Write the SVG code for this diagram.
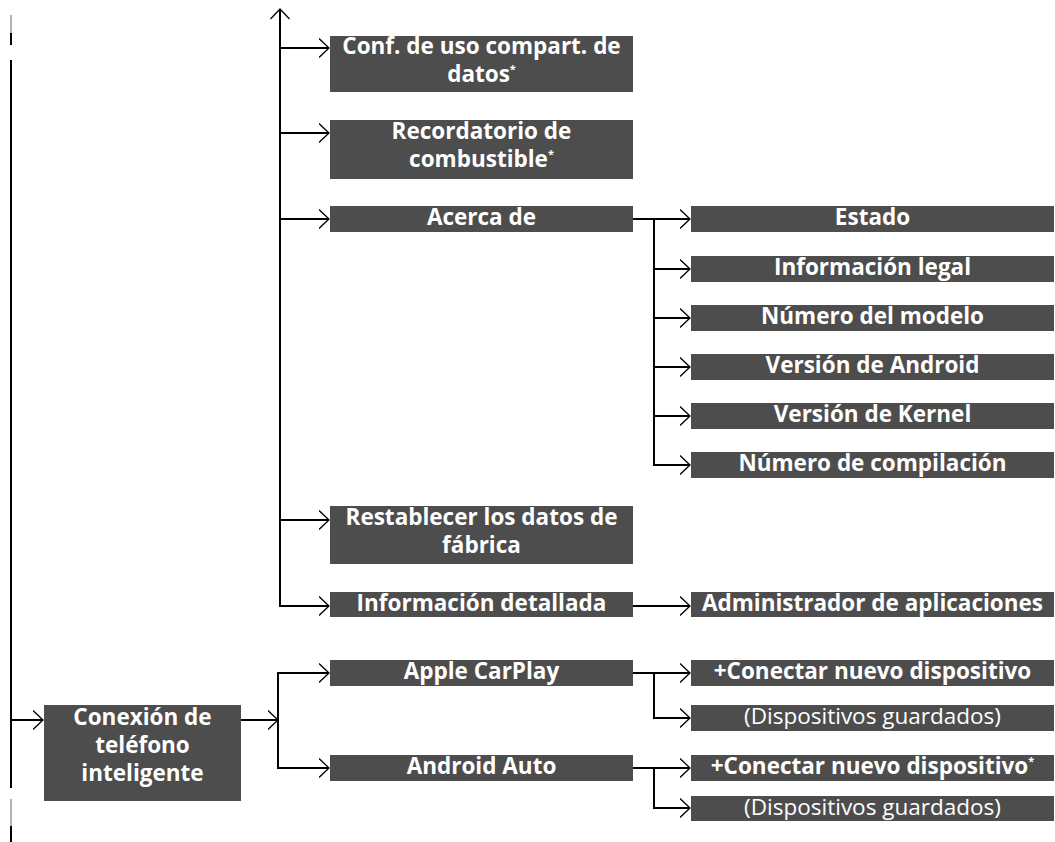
<svg xmlns="http://www.w3.org/2000/svg" width="1055" height="842" viewBox="0 0 1055 842">
<defs>
<style>
.box{fill:#4d4d4d}
.t{font-family:"Open Sans","Noto Sans","Liberation Sans",sans-serif;font-weight:bold;font-size:22.5px;fill:#ffffff;text-anchor:middle}
.r{font-weight:normal}
.sup{font-size:11px}
.ln{fill:none;stroke:#000;stroke-width:2}
</style>
<marker id="arr" markerWidth="12" markerHeight="22" refX="10.5" refY="10" orient="auto" markerUnits="userSpaceOnUse">
<path d="M0.5,0.5 L10.5,10 L0.5,19.5" fill="none" stroke="#000" stroke-width="1.3"/>
</marker>
</defs>
<rect width="1055" height="842" fill="#fff"/>

<g id="connectors">
<line x1="11" y1="15" x2="11" y2="33" stroke="#999" stroke-width="1.5"/>
<line x1="11" y1="33" x2="11" y2="45" class="ln"/>
<line x1="11" y1="60" x2="11" y2="788" class="ln"/>
<line x1="11" y1="799" x2="11" y2="826" stroke="#999" stroke-width="1.5"/>
<line x1="11" y1="826" x2="11" y2="842" class="ln"/>
<path d="M11,720 H43" class="ln" marker-end="url(#arr)"/>
<path d="M241,720 H278" class="ln" marker-end="url(#arr)"/>
<path d="M280,606 V9" class="ln" marker-end="url(#arr)"/>
<path d="M280,48 H329" class="ln" marker-end="url(#arr)"/>
<path d="M280,133 H329" class="ln" marker-end="url(#arr)"/>
<path d="M280,219 H329" class="ln" marker-end="url(#arr)"/>
<path d="M280,520 H329" class="ln" marker-end="url(#arr)"/>
<path d="M279,606 H329" class="ln" marker-end="url(#arr)"/>
<path d="M633,219 H690" class="ln" marker-end="url(#arr)"/>
<path d="M654,218 V466" class="ln"/>
<path d="M654,269 H690" class="ln" marker-end="url(#arr)"/>
<path d="M654,318 H690" class="ln" marker-end="url(#arr)"/>
<path d="M654,367 H690" class="ln" marker-end="url(#arr)"/>
<path d="M654,416 H690" class="ln" marker-end="url(#arr)"/>
<path d="M653,465 H690" class="ln" marker-end="url(#arr)"/>
<path d="M633,606 H690" class="ln" marker-end="url(#arr)"/>
<path d="M278,672 V768" class="ln"/>
<path d="M277,673 H329" class="ln" marker-end="url(#arr)"/>
<path d="M277,768 H329" class="ln" marker-end="url(#arr)"/>
<path d="M633,673 H690" class="ln" marker-end="url(#arr)"/>
<path d="M654,673 V718 H690" class="ln" marker-end="url(#arr)"/>
<path d="M633,768 H690" class="ln" marker-end="url(#arr)"/>
<path d="M654,768 V808 H690" class="ln" marker-end="url(#arr)"/>
</g>

<g id="conf"><rect class="box" x="330" y="36" width="303" height="56"/><text class="t" x="481.5" y="54">Conf. de uso compart. de<tspan x="481.5" dy="28">datos</tspan><tspan class="sup" dy="-9">*</tspan></text></g>
<g id="recordatorio"><rect class="box" x="330" y="120" width="303" height="59"/><text class="t" x="481.5" y="139">Recordatorio de<tspan x="481.5" dy="28">combustible</tspan><tspan class="sup" dy="-9">*</tspan></text></g>
<g id="acerca"><rect class="box" x="330" y="206" width="303" height="26"/><text class="t" x="481.5" y="225">Acerca de</text></g>
<g id="restablecer"><rect class="box" x="330" y="506" width="303" height="58"/><text class="t" x="481.5" y="525">Restablecer los datos de<tspan x="481.5" dy="28">fábrica</tspan></text></g>
<g id="infodet"><rect class="box" x="330" y="592" width="303" height="25"/><text class="t" x="481.5" y="611">Información detallada</text></g>
<g id="apple"><rect class="box" x="330" y="660" width="303" height="26"/><text class="t" x="481.5" y="679">Apple CarPlay</text></g>
<g id="android"><rect class="box" x="330" y="755" width="303" height="26"/><text class="t" x="481.5" y="774">Android Auto</text></g>

<g id="estado"><rect class="box" x="691" y="206" width="363" height="26"/><text class="t" x="872.5" y="225">Estado</text></g>
<g id="legal"><rect class="box" x="691" y="256" width="363" height="26"/><text class="t" x="872.5" y="275">Información legal</text></g>
<g id="modelo"><rect class="box" x="691" y="305" width="363" height="26"/><text class="t" x="872.5" y="324">Número del modelo</text></g>
<g id="vandroid"><rect class="box" x="691" y="354" width="363" height="26"/><text class="t" x="872.5" y="373">Versión de Android</text></g>
<g id="kernel"><rect class="box" x="691" y="403" width="363" height="26"/><text class="t" x="872.5" y="422">Versión de Kernel</text></g>
<g id="compilacion"><rect class="box" x="691" y="452" width="363" height="26"/><text class="t" x="872.5" y="471">Número de compilación</text></g>
<g id="admin"><rect class="box" x="691" y="592" width="363" height="25"/><text class="t" x="872.5" y="611">Administrador de aplicaciones</text></g>
<g id="conectar1"><rect class="box" x="691" y="660" width="363" height="26"/><text class="t" x="872.5" y="679">+Conectar nuevo dispositivo</text></g>
<g id="disp1"><rect class="box" x="691" y="705" width="363" height="26"/><text class="t r" x="872.5" y="724">(Dispositivos guardados)</text></g>
<g id="conectar2"><rect class="box" x="691" y="755" width="363" height="26"/><text class="t" x="872.5" y="774">+Conectar nuevo dispositivo<tspan class="sup" dy="-9">*</tspan></text></g>
<g id="disp2"><rect class="box" x="691" y="796" width="363" height="25"/><text class="t r" x="872.5" y="815">(Dispositivos guardados)</text></g>

<g id="conexion"><rect class="box" x="44" y="705" width="197" height="96"/><text class="t" x="142.5" y="725">Conexión de<tspan x="142.5" dy="28">teléfono</tspan><tspan x="142.5" dy="28">inteligente</tspan></text></g>
</svg>
